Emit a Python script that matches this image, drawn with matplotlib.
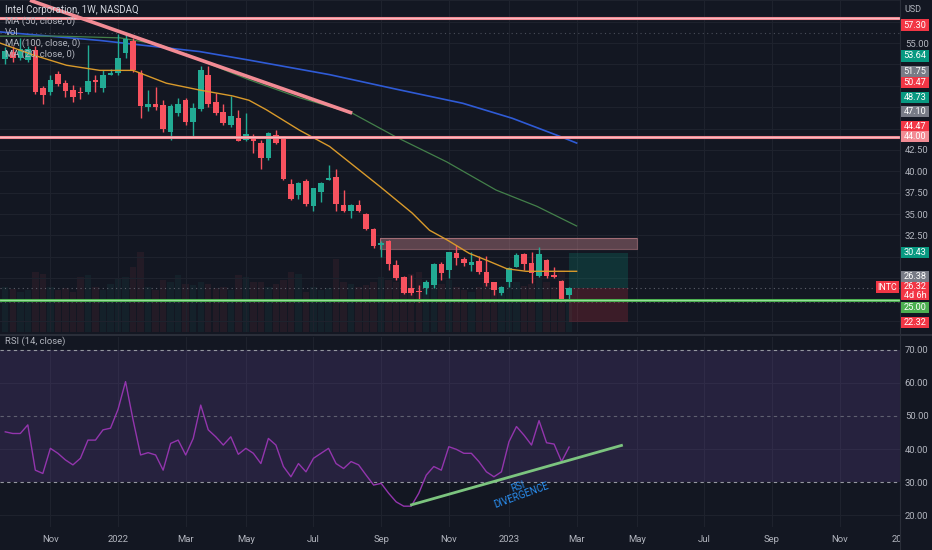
import datetime as dt
import matplotlib
matplotlib.use('Agg')
import matplotlib.pyplot as plt
import matplotlib.dates as mdates
from matplotlib.patches import Rectangle

plt.rcParams['font.family'] = ['Liberation Sans Narrow', 'Roboto', 'DejaVu Sans']

# INTC weekly candles, first bar = week of 2021-09-20
first_week = dt.date(2021, 9, 20)
opens = [53.1, 54.0, 53.2, 53.0, 54.2, 49.7, 49.3, 51.4, 50.3, 49.5,
         49.3, 49.3, 50.7, 49.7, 51.2, 51.5, 53.8, 55.2, 51.5, 47.5,
         47.9, 47.8, 44.6, 46.8, 48.3, 45.8, 47.3, 51.2, 48.1, 46.9,
         45.4, 46.2, 43.6, 44.0, 43.3, 41.5, 44.2, 43.8, 38.5, 37.2,
         38.9, 35.9, 37.6, 39.0, 39.3, 36.0, 35.3, 36.1, 35.0, 33.3,
         31.4, 31.8, 29.0, 27.6, 26.4, 26.0, 26.3, 26.7, 29.1, 28.4,
         30.4, 29.7, 29.0, 29.5, 28.2, 27.0, 25.8, 27.0, 28.8, 30.3,
         29.3, 27.7, 29.6, 27.9, 27.2, 25.5]
highs = [54.5, 54.6, 55.6, 54.6, 54.6, 50.0, 51.2, 51.7, 50.7, 50.1,
         49.9, 54.8, 51.2, 51.8, 52.0, 56.0, 56.0, 55.6, 51.8, 49.5,
         49.9, 48.3, 47.9, 48.6, 48.6, 48.0, 52.3, 52.3, 49.1, 47.9,
         48.8, 47.2, 46.8, 44.4, 43.6, 44.6, 44.8, 43.9, 39.1, 38.7,
         39.1, 38.1, 38.8, 40.7, 40.3, 37.8, 36.2, 36.6, 35.1, 33.4,
         31.9, 32.0, 29.6, 27.7, 27.9, 26.7, 27.3, 29.3, 29.4, 30.6,
         31.4, 30.0, 30.5, 30.1, 30.1, 27.0, 26.6, 28.8, 30.4, 30.4,
         30.6, 31.1, 29.7, 28.8, 27.3, 26.5]
lows = [52.6, 52.8, 53.0, 52.8, 49.0, 47.9, 48.9, 50.0, 48.7, 48.1,
        48.4, 49.0, 49.3, 49.3, 51.2, 51.3, 53.3, 51.6, 46.2, 47.0,
        47.2, 44.6, 43.7, 46.5, 45.4, 43.9, 47.0, 47.5, 46.6, 45.4,
        45.2, 43.5, 43.5, 42.1, 40.3, 41.3, 43.2, 39.0, 36.6, 36.8,
        35.9, 35.4, 36.4, 39.0, 35.3, 35.2, 34.5, 35.2, 33.1, 31.0,
        30.0, 28.4, 27.3, 25.6, 25.5, 24.7, 25.7, 26.3, 27.3, 27.5,
        29.0, 28.9, 28.3, 28.0, 26.6, 25.5, 25.5, 26.5, 28.8, 28.5,
        26.9, 27.6, 27.5, 27.5, 25.0, 25.1]
closes = [54.1, 53.2, 54.3, 54.3, 49.3, 48.9, 50.7, 50.2, 49.4, 48.7,
          49.1, 50.5, 50.4, 51.2, 51.5, 53.3, 55.5, 51.8, 47.6, 47.9,
          47.5, 44.9, 47.6, 47.9, 45.8, 47.4, 51.8, 47.9, 46.8, 45.6,
          46.5, 43.5, 44.4, 43.5, 41.5, 44.5, 43.3, 39.1, 36.8, 38.6,
          36.2, 38.0, 38.6, 39.2, 36.2, 35.3, 36.1, 35.3, 33.3, 31.2,
          31.6, 29.2, 27.5, 25.8, 25.8, 25.9, 27.0, 29.2, 28.1, 30.5,
          29.9, 29.3, 29.4, 28.2, 26.9, 26.1, 26.5, 28.7, 30.2, 29.2,
          28.1, 30.3, 27.7, 27.6, 25.1, 26.32]
volumes = [135, 129, 120, 126, 180, 174, 135, 126, 132, 120,
           165, 171, 135, 126, 144, 159, 165, 195, 240, 135,
           126, 156, 150, 171, 144, 141, 150, 144, 132, 135,
           126, 171, 165, 150, 150, 135, 144, 156, 180, 174,
           120, 135, 126, 132, 219, 150, 144, 135, 141, 150,
           165, 156, 150, 165, 174, 180, 150, 165, 144, 156,
           135, 126, 120, 135, 150, 144, 132, 156, 150, 138,
           144, 165, 150, 135, 186, 90]

rsi = [45.2, 44.7, 44.7, 47.3, 33.6, 32.6, 40.2, 38.7, 36.7, 35.2,
       37.2, 42.7, 42.7, 45.8, 46.3, 52.0, 60.4, 48.8, 38.2, 38.9,
       38.2, 33.6, 41.7, 42.7, 38.2, 43.2, 53.3, 45.8, 43.7, 41.2,
       43.7, 38.4, 40.2, 38.7, 35.6, 43.2, 41.2, 34.7, 31.6, 35.6,
       33.1, 37.2, 38.7, 40.2, 35.6, 34.1, 36.2, 35.2, 32.1, 29.1,
       29.6, 26.6, 24.0, 22.7, 22.7, 26.6, 32.1, 34.7, 33.6, 40.7,
       39.9, 38.7, 38.7, 36.2, 33.1, 31.6, 33.1, 42.2, 46.8, 44.2,
       41.2, 48.6, 41.9, 41.5, 36.2, 40.6]

# moving averages, read at a few dates
ma20_dates = ['2021-09-15', '2021-10-16', '2021-11-16', '2021-12-17', '2022-01-17',
              '2022-02-17', '2022-03-20', '2022-04-20', '2022-05-05', '2022-05-21',
              '2022-06-21', '2022-07-19', '2022-09-04', '2022-10-04', '2022-10-20',
              '2022-11-05', '2022-11-26', '2022-12-12', '2022-12-31', '2023-01-18',
              '2023-03-06']
ma20_vals = [55.0, 53.6, 52.4, 51.8, 51.8, 50.3, 49.5, 48.8, 48.3, 47.2,
             44.8, 42.9, 38.2, 35.1, 33.1, 32.0, 30.4, 29.6, 28.6, 28.3, 28.3]
ma50_dates = ['2021-09-15', '2021-11-10', '2022-01-05', '2022-02-11', '2022-03-20',
              '2022-05-05', '2022-06-21', '2022-08-09', '2022-09-19', '2022-11-05',
              '2022-12-21', '2023-01-28', '2023-03-06']
ma50_vals = [55.8, 55.8, 55.6, 54.8, 53.0, 50.7, 48.6, 46.8, 44.0, 41.1, 37.8, 35.9, 33.6]
ma100_dates = ['2021-09-15', '2021-12-17', '2022-03-20', '2022-05-05', '2022-07-19',
               '2022-09-19', '2022-11-20', '2023-01-05', '2023-02-18', '2023-03-06']
ma100_vals = [56.3, 55.3, 54.0, 53.0, 51.3, 49.6, 47.95, 46.2, 44.1, 43.3]

# drawings
trend_dates = ['2021-10-13', '2022-08-09']
trend_vals = [60.0, 46.8]
resist_levels = [57.92, 44.0]
support_level = 25.0
zone_dates = ['2022-09-04', '2023-05-01']
zone_prices = [30.95, 32.16]
pos_dates = ['2023-02-27', '2023-04-23']
pos_target, pos_entry, pos_stop = 30.43, 26.38, 22.32
div_dates = ['2022-10-02', '2023-04-18']
div_vals = [23.0, 41.2]

tick_dates = ['2021-11-01', '2022-01-03', '2022-03-07', '2022-05-02', '2022-07-04',
              '2022-09-05', '2022-11-07', '2023-01-02', '2023-03-06', '2023-05-01',
              '2023-07-03', '2023-09-04', '2023-11-06', '2023-12-29']
tick_labels = ['Nov', '2022', 'Mar', 'May', 'Jul', 'Sep', 'Nov', '2023', 'Mar', 'May',
               'Jul', 'Sep', 'Nov', '20']
price_ticks = [55.0, 42.5, 40.0, 37.5, 35.0, 32.5]   # the ones not hidden by tags
rsi_ticks = [20, 30, 40, 50, 60, 70]

# right scale tags: (text, pixel y in price pane, colour)
tag_text = ['57.30', '53.64', '51.75', '50.47', '48.73', '47.10', '44.47', '44.00',
            '30.43', '26.38', '26.32\n4d 6h', '25.00', '22.32']
tag_y = [25, 56, 71.7, 82.7, 97.7, 111.3, 126.7, 136.7, 252.3, 276.7, 291.3, 307.7, 322.3]
tag_h = [11, 11, 11, 11, 11, 11, 11, 11, 11, 11, 18, 11, 11]
tag_col = ['#f23645', '#089981', '#787b86', '#f23645', '#089981', '#787b86', '#f23645',
           '#f28b94', '#089981', '#787b86', '#f23645', '#4caf50', '#f23645']

BG = '#131722'
GRID = '#1e222d'
TXT = '#b2b5be'
UP = '#22ab94'
DOWN = '#f7525f'
W, H = 932, 550


def d(s):
    return mdates.date2num(dt.datetime.strptime(s, '%Y-%m-%d'))


fig = plt.figure(figsize=(W / 100, H / 100), dpi=100, facecolor=BG)
ax = fig.add_axes([0, (H - 332) / H, 900 / W, 332 / H])
ax_r = fig.add_axes([0, (H - 527) / H, 900 / W, 190 / H], sharex=ax)
ax_v = ax.twinx()
ax.set_zorder(ax_v.get_zorder() + 1)
ax.patch.set_visible(False)
ax_v.set_facecolor(BG)
ax_r.set_facecolor(BG)

xs = [mdates.date2num(first_week + dt.timedelta(weeks=i)) for i in range(len(closes))]
x0 = d('2022-01-03') - 109.9
x1 = d('2022-01-03') + 728.1

# volume (very faint)
vcol = [UP if c >= o else DOWN for o, c in zip(opens, closes)]
ax_v.bar(xs, volumes, width=6.0, color=vcol, alpha=0.07, linewidth=0)
ax_v.set_ylim(0, 990)
ax_v.axis('off')

# grid
for t in tick_dates[:-1]:
    ax.axvline(d(t), color=GRID, lw=0.8, zorder=0)
    ax_r.axvline(d(t), color=GRID, lw=0.8, zorder=0)
for p in [22.5 + 2.5 * k for k in range(16)]:
    ax.axhline(p, color=GRID, lw=0.8, zorder=0)
for p in [20, 40, 60]:
    ax_r.axhline(p, color=GRID, lw=0.8, zorder=0)

# candles
for x, o, h, l, c in zip(xs, opens, highs, lows, closes):
    col = UP if c >= o else DOWN
    ax.vlines(x, l, h, color=col, lw=1, zorder=3)
    ax.bar(x, max(abs(c - o), 0.08), bottom=min(o, c), width=5.2, color=col,
           linewidth=0, zorder=4)

ax.plot([d(s) for s in ma100_dates], ma100_vals, color='#2f5bd6', lw=1.2, zorder=2)
ax.plot([d(s) for s in ma50_dates], ma50_vals, color='#43804a', lw=0.9, zorder=2)
ax.plot([d(s) for s in ma20_dates], ma20_vals, color='#d99a2b', lw=1.0, zorder=5)

# drawn levels
for lv in resist_levels:
    ax.axhline(lv, color='#f28b94', lw=2.2, zorder=6)
    ax.axhline(lv, color='#f8c3c8', lw=0.6, zorder=6)
ax.axhline(support_level, color='#4caf50', lw=2.2, zorder=6)
ax.axhline(support_level, color='#a5e6a8', lw=0.6, zorder=6)
ax.plot([d(s) for s in trend_dates], trend_vals, color='#f28b94', lw=2.6,
        solid_capstyle='butt', zorder=6)
ax.axhline(56.17, color='#4a4e5a', lw=0.8, ls=(0, (1, 3)), zorder=1)
ax.axhline(26.4, color='#5d606b', lw=0.8, ls=(0, (1, 3)), zorder=1)
ax.axhline(24.7, color='#4a4e5a', lw=0.8, ls=(0, (1, 3)), zorder=1)

zx = [d(s) for s in zone_dates]
ax.fill_between(zx, zone_prices[0], zone_prices[1], color='#f7a1a8', alpha=0.32,
                linewidth=0, zorder=2)
ax.plot([zx[0], zx[1], zx[1], zx[0], zx[0]],
        [zone_prices[0], zone_prices[0], zone_prices[1], zone_prices[1], zone_prices[0]],
        color='#f7a1a8', alpha=0.45, lw=0.8, zorder=2)

px = [d(s) for s in pos_dates]
ax.fill_between(px, pos_entry, pos_target, color='#089981', alpha=0.22, linewidth=0, zorder=2)
ax.fill_between(px, pos_stop, pos_entry, color='#f23645', alpha=0.18, linewidth=0, zorder=2)

ax.set_xlim(x0, x1)
ax.set_ylim(21.2, 60.03)

# RSI pane
ax_r.axhspan(30, 70, color='#7e57c2', alpha=0.18, linewidth=0, zorder=0)
ax_r.axhline(70, color='#9598a1', lw=0.8, ls=(0, (3, 3)), zorder=1)
ax_r.axhline(50, color='#787b86', lw=0.8, ls=(0, (3, 3)), alpha=0.7, zorder=1)
ax_r.axhline(30, color='#9598a1', lw=0.8, ls=(0, (3, 3)), zorder=1)
ax_r.plot(xs, rsi, color='#9335ad', lw=1.0, zorder=3)
ax_r.plot([d(s) for s in div_dates], div_vals, color='#7cc47f', lw=2.0,
          solid_capstyle='butt', zorder=4)
ax_r.text(d('2023-01-12'), 27.4, 'RSI\nDIVERGENCE', color='#2a8ef0', fontsize=7,
          rotation=20, ha='center', va='center', linespacing=0.9, zorder=5)
ax_r.set_ylim(16.4, 73.9)

# axes cosmetics
for a in (ax, ax_r):
    for s in a.spines.values():
        s.set_visible(False)
    a.yaxis.tick_right()
    a.tick_params(axis='y', length=0, pad=3.5, labelsize=6.8, labelcolor=TXT)
ax.set_yticks(price_ticks)
ax.yaxis.set_major_formatter(plt.FuncFormatter(lambda v, p: f'{v:.2f}'))
ax.tick_params(axis='x', bottom=False, labelbottom=False)
ax_r.set_yticks(rsi_ticks)
ax_r.yaxis.set_major_formatter(plt.FuncFormatter(lambda v, p: f'{v:.2f}'))
ax_r.set_xticks([d(t) for t in tick_dates])
ax_r.set_xticklabels(tick_labels)
ax_r.tick_params(axis='x', length=0, pad=6, labelsize=6.8, labelcolor=TXT)

# right scale tags, drawn as boxes in figure pixels
for t, yp, hh, c in zip(tag_text, tag_y, tag_h, tag_col):
    fig.add_artist(Rectangle((901 / W, 1 - (yp + hh / 2) / H), 28 / W, hh / H,
                             transform=fig.transFigure, fc=c, ec='none', zorder=9))
    fig.text(915 / W, 1 - yp / H, t, color='white', fontsize=6.6, ha='center',
             va='center', linespacing=0.95, zorder=10)
fig.add_artist(Rectangle((876 / W, 1 - 293 / H), 23 / W, 12 / H,
                         transform=fig.transFigure, fc='#f23645', ec='none', zorder=9))
fig.text(887.5 / W, 1 - 287 / H, 'INTC', color='white', fontsize=6.4, ha='center',
         va='center', zorder=10)
fig.text(913 / W, 1 - 9 / H, 'USD', color=TXT, fontsize=6.5, ha='center', va='center')

# separators
fig.add_artist(plt.Line2D([900 / W, 900 / W], [0, 1], color='#2a2e39', lw=0.8))
fig.add_artist(plt.Line2D([0, 1], [1 - 334.5 / H, 1 - 334.5 / H], color='#2a2e39', lw=1.5))

# legends
fig.text(5 / W, 1 - 10 / H, 'Intel Corporation, 1W, NASDAQ', color='#d1d4dc', fontsize=7,
         va='center')
for i, s in enumerate(['MA (50, close, 0)', 'Vol', 'MA (100, close, 0)', 'MA (20, close, 0)']):
    fig.text(5 / W, 1 - (21.5 + 11 * i) / H, s, color=TXT, fontsize=6.8, va='center')
fig.text(5 / W, 1 - 341 / H, 'RSI (14, close)', color=TXT, fontsize=6.8, va='center')

fig.savefig('out.png', dpi=100, facecolor=BG)
